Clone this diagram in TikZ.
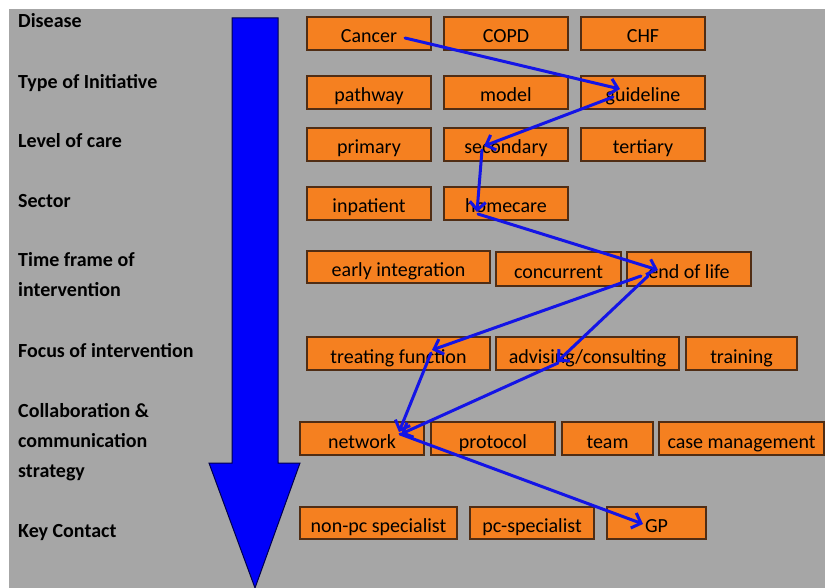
\documentclass[tikz,border=0pt]{standalone}
\usepackage{fontspec}
\setmainfont{Carlito}
\usetikzlibrary{arrows.meta}
\definecolor{bggrey}{RGB}{166,166,166}
\definecolor{boxorange}{RGB}{245,128,32}
\definecolor{boxedge}{RGB}{80,45,20}
\definecolor{conblue}{RGB}{20,20,230}
\definecolor{bigblue}{RGB}{0,0,250}
\newcommand\bxt[1]{\raisebox{-5pt}[0pt][0pt]{#1}}
\tikzset{
  box/.style={draw=boxedge, line width=1.2pt, fill=boxorange, inner sep=0pt,
    minimum height=33pt, text height=13pt, text depth=4pt,
    font=\fontsize{20}{24}\selectfont},
  lbl/.style={anchor=base west, inner sep=0pt, font=\fontsize{20}{30}\selectfont\bfseries,
    align=left},
  con/.style={draw=conblue, line width=3pt, line cap=round, line join=round,
    -{Straight Barb[length=8pt,width=16pt,line width=3pt]}},
}
\begin{document}
\begin{tikzpicture}[x=1pt,y=-1pt]
\useasboundingbox (0,0) rectangle (825,588);
\fill[white] (0,0) rectangle (825,588);
\fill[bggrey] (9,9) rectangle (825,588);
% big arrow
\draw[fill=bigblue, draw=black!70!blue, line width=1pt]
  (232,18) -- (278,18) -- (278,463) -- (300,463) -- (255,588) -- (209,463) -- (232,463) -- cycle;
% labels
\node[lbl] (l1) at (18,28) {Disease};
\node[lbl] (l2) at (18,89) {Type of Initiative};
\node[lbl] (l3) at (18,148) {Level of care};
\node[lbl] (l4) at (18,208) {Sector};
\node[lbl] (l5) at (18,297) {Time frame of\\intervention};
\node[lbl] (l6) at (18,357) {Focus of intervention};
\node[lbl] (l7) at (18,477) {Collaboration \&\\communication\\strategy};
\node[lbl] (l8) at (18,537) {Key Contact};
% boxes
\node[box, minimum width=124pt] (cancer) at (369,33.5) {\bxt{Cancer}};
\node[box, minimum width=124pt] (copd) at (506,33.5) {\bxt{COPD}};
\node[box, minimum width=124pt] (chf) at (643,33.5) {\bxt{CHF}};
\node[box, minimum width=124pt] (pathway) at (369,92.5) {\bxt{pathway}};
\node[box, minimum width=124pt] (model) at (506,92.5) {\bxt{model}};
\node[box, minimum width=124pt] (guideline) at (643,92.5) {\bxt{guideline}};
\node[box, minimum width=124pt] (primary) at (369,144.5) {\bxt{primary}};
\node[box, minimum width=124pt] (secondary) at (506,144.5) {\bxt{secondary}};
\node[box, minimum width=124pt] (tertiary) at (643,144.5) {\bxt{tertiary}};
\node[box, minimum width=124pt] (inpatient) at (369,203.5) {\bxt{inpatient}};
\node[box, minimum width=124pt] (homecare) at (506,203.5) {\bxt{homecare}};
\node[box, minimum width=183pt, minimum height=32pt] (early) at (398.5,267) {\bxt{early integration}};
\node[box, minimum width=125pt, minimum height=34pt] (concurrent) at (558.5,269) {\bxt{concurrent}};
\node[box, minimum width=124pt, minimum height=34pt] (eol) at (689,269) {\bxt{end of life}};
\node[box, minimum width=183pt] (treating) at (398.5,353.5) {\bxt{treating function}};
\node[box, minimum width=183pt] (advising) at (587.5,353.5) {\bxt{advising/consulting}};
\node[box, minimum width=111pt] (training) at (741.5,353.5) {\bxt{training}};
\node[box, minimum width=124pt] (network) at (362,438.5) {\bxt{network}};
\node[box, minimum width=124pt] (protocol) at (493,438.5) {\bxt{protocol}};
\node[box, minimum width=91pt] (team) at (607.5,438.5) {\bxt{team}};
\node[box, minimum width=165pt] (casemgmt) at (741.5,438.5) {\bxt{case management}};
\node[box, minimum width=157pt, minimum height=32pt] (nonpc) at (378.5,523) {\bxt{non-pc specialist}};
\node[box, minimum width=124pt, minimum height=32pt] (pcspec) at (532,523) {\bxt{pc-specialist}};
\node[box, minimum width=99pt, minimum height=32pt] (gp) at (656.5,523) {\bxt{GP}};
% connectors
\draw[con] ([shift={(36,4.5)}]cancer.center) -- ([shift={(-23,-3.5)}]guideline.center);
\draw[con] ([shift={(-30,4.5)}]guideline.center) -- ([shift={(-22,1.5)}]secondary.center);
\draw[con] ([shift={(-24,5.5)}]secondary.center) -- ([shift={(-29,8.5)}]homecare.center);
\draw[con] ([shift={(-28,10.5)}]homecare.center) -- ([shift={(-31,1)}]eol.center);
\draw[con] ([shift={(-48,7)}]eol.center) -- ([shift={(33.5,-3.5)}]treating.center);
\draw[con] ([shift={(-41,7)}]eol.center) -- ([shift={(-30.5,8.5)}]advising.center);
\draw[con] ([shift={(32.5,-0.5)}]treating.center) -- ([shift={(37,-6.5)}]network.center);
\draw[con] ([shift={(-29.5,9.5)}]advising.center) -- ([shift={(39,-4.5)}]network.center);
\draw[con] ([shift={(38,-4.5)}]network.center) -- ([shift={(-13.5,1)}]gp.center);
\end{tikzpicture}
\end{document}
